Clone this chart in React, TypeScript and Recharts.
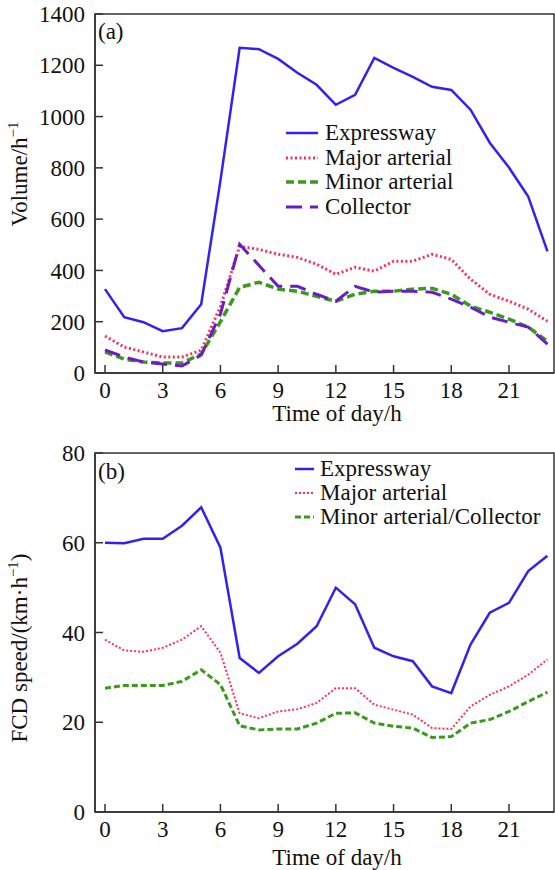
import React from "react"
import { LineChart, Line, XAxis, YAxis, ReferenceArea } from "recharts"

const hours = [0, 1, 2, 3, 4, 5, 6, 7, 8, 9, 10, 11, 12, 13, 14, 15, 16, 17, 18, 19, 20, 21, 22, 23]
const hourTicks = [0, 3, 6, 9, 12, 15, 18, 21]
const volumeTicks = [0, 200, 400, 600, 800, 1000, 1200, 1400]
const speedTicks = [0, 20, 40, 60, 80]

// (a) hourly volume, veh/h
const volExpressway = [327, 218, 198, 163, 175, 268, 750, 1268, 1263, 1225, 1171, 1124, 1046, 1085, 1229, 1190, 1155, 1116, 1104, 1027, 898, 801, 688, 474]
const volMajor = [144, 101, 82, 62, 62, 89, 260, 494, 482, 463, 451, 424, 385, 412, 397, 436, 436, 463, 443, 366, 307, 280, 249, 202]
const volMinor = [82, 54, 43, 39, 39, 74, 200, 334, 354, 327, 319, 299, 280, 307, 319, 319, 327, 330, 307, 261, 237, 210, 179, 124]
const volCollector = [90, 62, 43, 35, 27, 70, 230, 502, 420, 338, 338, 307, 280, 338, 315, 319, 319, 315, 288, 257, 218, 198, 179, 113]

// (b) FCD speed, km/h
const spdExpressway = [60.0, 59.9, 60.9, 60.9, 63.8, 67.9, 58.9, 34.3, 31.0, 34.7, 37.5, 41.4, 50.0, 46.3, 36.6, 34.7, 33.6, 28.0, 26.5, 37.3, 44.4, 46.6, 53.7, 57.1]
const spdMajor = [38.4, 36.0, 35.7, 36.6, 38.4, 41.4, 35.5, 22.0, 20.9, 22.4, 22.9, 24.3, 27.6, 27.6, 23.9, 22.8, 21.7, 18.7, 18.5, 23.5, 26.1, 28.0, 30.6, 34.0]
const spdMinorCollector = [27.6, 28.2, 28.2, 28.2, 29.1, 31.7, 28.4, 19.2, 18.3, 18.5, 18.5, 19.8, 22.0, 22.1, 19.8, 19.1, 18.7, 16.6, 16.8, 19.8, 20.6, 22.4, 24.6, 26.7]

const volumeData = hours.map((h, i) => ({
  hour: h,
  expressway: volExpressway[i],
  major: volMajor[i],
  minor: volMinor[i],
  collector: volCollector[i],
}))

const speedData = hours.map((h, i) => ({
  hour: h,
  expressway: spdExpressway[i],
  major: spdMajor[i],
  minorCollector: spdMinorCollector[i],
}))

const FONT = "'Liberation Serif', 'Times New Roman', serif"
const AXIS = "#333"
const BLUE = "#3322ee"
const RED = "#ff2d5a"
const GREEN = "#3a9a1a"
const PURPLE = "#6a1cc8"
const X_DOMAIN: [number, number] = [-0.52, 23.34]

const tickStyle = { fontSize: 23, fill: "#111", fontFamily: FONT }

type LegendItem = { name: string; color: string; dash?: string; width: number }

function LegendBox({ items, left, top, sample, gap, rowH }: { items: LegendItem[]; left: number; top: number; sample: number; gap: number; rowH: number }) {
  return (
    <div style={{ position: "absolute", left, top, fontFamily: FONT, fontSize: 23, color: "#111" }}>
      {items.map((it) => (
        <div key={it.name} style={{ display: "flex", alignItems: "center", height: rowH, whiteSpace: "nowrap" }}>
          <svg width={sample} height={10} style={{ marginRight: gap }}>
            <line x1={0} y1={5} x2={sample} y2={5} stroke={it.color} strokeWidth={it.width} strokeDasharray={it.dash} />
          </svg>
          <span>{it.name}</span>
        </div>
      ))}
    </div>
  )
}

function XTitle(y: number) {
  return () => (
    <text x={337} y={y} textAnchor="middle" fontSize={23} fontFamily={FONT} fill="#111">
      Time of day/h
    </text>
  )
}

export default function App() {
  return (
    <div style={{ position: "absolute", left: 0, top: 0, width: 555, height: 870, background: "#fff", fontFamily: FONT }}>
      <div style={{ position: "absolute", left: 0, top: 0 }}>
        <LineChart width={555} height={430} data={volumeData} margin={{ top: 14, right: 1, bottom: 0, left: 0 }}>
          <XAxis
            dataKey="hour"
            type="number"
            domain={X_DOMAIN}
            ticks={hourTicks}
            height={57}
            tick={tickStyle}
            tickSize={-8}
            tickMargin={17}
            stroke={AXIS}
            strokeWidth={1.5}
            label={XTitle(421)}
          />
          <YAxis
            type="number"
            domain={[0, 1400]}
            ticks={volumeTicks}
            width={95}
            tick={tickStyle}
            tickSize={-8}
            tickMargin={18}
            stroke={AXIS}
            strokeWidth={1.5}
            label={() => (
              <text transform="translate(27,174) rotate(-90)" textAnchor="middle" fontSize={23} fontFamily={FONT} fill="#111">
                <tspan>Volume/h</tspan>
                <tspan dy={-9} fontSize={15}>−1</tspan>
              </text>
            )}
          />
          <ReferenceArea x1={X_DOMAIN[0]} x2={X_DOMAIN[1]} y1={0} y2={1400} fill="none" stroke={AXIS} strokeWidth={1.5} />
          <Line dataKey="expressway" stroke={BLUE} strokeWidth={2.5} dot={false} isAnimationActive={false} />
          <Line dataKey="major" stroke={RED} strokeWidth={3} strokeDasharray="2 2.5" dot={false} isAnimationActive={false} />
          <Line dataKey="minor" stroke={GREEN} strokeWidth={3.5} strokeDasharray="8 4" dot={false} isAnimationActive={false} />
          <Line dataKey="collector" stroke={PURPLE} strokeWidth={3} strokeDasharray="16 8" dot={false} isAnimationActive={false} />
        </LineChart>
      </div>
      <div style={{ position: "absolute", left: 98, top: 19, fontSize: 23, fontFamily: FONT, color: "#111" }}>(a)</div>
      <LegendBox
        left={286}
        top={121}
        sample={32}
        gap={7}
        rowH={24.5}
        items={[
          { name: "Expressway", color: BLUE, width: 2.5 },
          { name: "Major arterial", color: RED, width: 3, dash: "2 2.5" },
          { name: "Minor arterial", color: GREEN, width: 3.5, dash: "8 4" },
          { name: "Collector", color: PURPLE, width: 3, dash: "16 8" },
        ]}
      />

      <div style={{ position: "absolute", left: 0, top: 430 }}>
        <LineChart width={555} height={440} data={speedData} margin={{ top: 23, right: 1, bottom: 0, left: 0 }}>
          <XAxis
            dataKey="hour"
            type="number"
            domain={X_DOMAIN}
            ticks={hourTicks}
            height={58}
            tick={tickStyle}
            tickSize={-8}
            tickMargin={17}
            stroke={AXIS}
            strokeWidth={1.5}
            label={XTitle(435)}
          />
          <YAxis
            type="number"
            domain={[0, 80]}
            ticks={speedTicks}
            width={95}
            tick={tickStyle}
            tickSize={-8}
            tickMargin={18}
            stroke={AXIS}
            strokeWidth={1.5}
            label={() => (
              <text transform="translate(27,218) rotate(-90)" textAnchor="middle" fontSize={23} fontFamily={FONT} fill="#111">
                <tspan>FCD speed/(km·h</tspan>
                <tspan dy={-9} fontSize={15}>−1</tspan>
                <tspan dy={9}>)</tspan>
              </text>
            )}
          />
          <ReferenceArea x1={X_DOMAIN[0]} x2={X_DOMAIN[1]} y1={0} y2={80} fill="none" stroke={AXIS} strokeWidth={1.5} />
          <Line dataKey="expressway" stroke={BLUE} strokeWidth={2.5} dot={false} isAnimationActive={false} />
          <Line dataKey="major" stroke={RED} strokeWidth={2} strokeDasharray="2 2" dot={false} isAnimationActive={false} />
          <Line dataKey="minorCollector" stroke={GREEN} strokeWidth={3} strokeDasharray="6 3" dot={false} isAnimationActive={false} />
        </LineChart>
      </div>
      <div style={{ position: "absolute", left: 98, top: 459, fontSize: 23, fontFamily: FONT, color: "#111" }}>(b)</div>
      <LegendBox
        left={295}
        top={457}
        sample={19}
        gap={6}
        rowH={24}
        items={[
          { name: "Expressway", color: BLUE, width: 2.5 },
          { name: "Major arterial", color: RED, width: 2, dash: "2 2" },
          { name: "Minor arterial/Collector", color: GREEN, width: 3, dash: "6 3" },
        ]}
      />
    </div>
  )
}
